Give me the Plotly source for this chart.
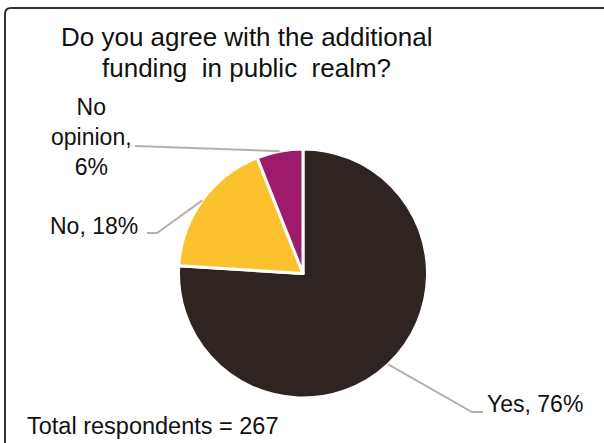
import math
import plotly.graph_objects as go

W, H = 604, 443

# Survey results
categories = ["Yes", "No", "No opinion"]
shares = [76, 18, 6]
label_texts = ["Yes, 76%", "No, 18%", "No<br>opinion,<br>6%"]
colors = ["#2e2422", "#fcc22e", "#9e1b6b"]
total_respondents = 267
title_lines = ["Do you agree with the additional", "funding  in public  realm?"]

FONT = "Liberation Sans, Arial, sans-serif"
TEXT = "#111111"
LEADER = "#b9aeac"

# pie geometry in pixels
CX, CY, R = 303, 273.5, 124.5


def px(x):
    return x / W


def py(y):
    return 1 - y / H


fig = go.Figure(
    go.Pie(
        labels=categories,
        values=shares,
        sort=False,
        direction="clockwise",
        rotation=0,
        marker=dict(colors=colors, line=dict(color="white", width=3)),
        textinfo="none",
        hoverinfo="label+percent",
        showlegend=False,
        domain=dict(x=[px(CX - R), px(CX + R)], y=[py(CY + R), py(CY - R)]),
    )
)

# label placement: (leader elbow/end points, text anchor point, xanchor)
placement = {
    "Yes": dict(path=[(472, 412), (483, 412)], at=(485, 404), xanchor="left"),
    "No": dict(path=[(157, 233), (147, 233)], at=(140, 225.5), xanchor="right"),
    "No opinion": dict(path=[(135, 146)], at=(91, 137), xanchor="center"),
}

shapes = []
annotations = []
total = sum(shares)
cum = 0
for cat, val, txt in zip(categories, shares, label_texts):
    mid = (cum + val / 2) / total * 2 * math.pi
    cum += val
    # point on the rim at the slice's mid-angle (clockwise from 12 o'clock)
    rx = CX + R * math.sin(mid)
    ry = CY - R * math.cos(mid)
    pts = [(rx, ry)] + placement[cat]["path"]
    d = "M " + " L ".join(f"{px(x):.5f},{py(y):.5f}" for x, y in pts)
    shapes.append(dict(type="path", path=d, xref="paper", yref="paper",
                       line=dict(color=LEADER, width=2)))
    ax, ay = placement[cat]["at"]
    annotations.append(dict(
        text=txt, x=px(ax), y=py(ay), xref="paper", yref="paper",
        xanchor=placement[cat]["xanchor"], yanchor="middle", showarrow=False,
        align="center", font=dict(family=FONT, size=23, color=TEXT),
    ))

# title, one annotation per line
for line, y in zip(title_lines, [37, 68]):
    annotations.append(dict(
        text=line, x=px(246), y=py(y), xref="paper", yref="paper",
        xanchor="center", yanchor="middle", showarrow=False,
        font=dict(family=FONT, size=26, color=TEXT),
    ))

annotations.append(dict(
    text=f"Total respondents = {total_respondents}", x=px(25), y=py(426),
    xref="paper", yref="paper", xanchor="left", yanchor="middle",
    showarrow=False, font=dict(family=FONT, size=23.5, color=TEXT),
))

# chart frame (top and left edges with a rounded corner)
frame = (f"M {px(5):.5f},{py(443):.5f} L {px(5):.5f},{py(14):.5f} "
         f"Q {px(5):.5f},{py(8):.5f} {px(11):.5f},{py(8):.5f} L {px(604):.5f},{py(8):.5f}")
shapes.append(dict(type="path", path=frame, xref="paper", yref="paper",
                   line=dict(color="#3a3030", width=2)))

fig.update_layout(
    width=W, height=H,
    margin=dict(l=0, r=0, t=0, b=0),
    paper_bgcolor="white", plot_bgcolor="white",
    shapes=shapes, annotations=annotations,
)

fig.write_html("out.html")
